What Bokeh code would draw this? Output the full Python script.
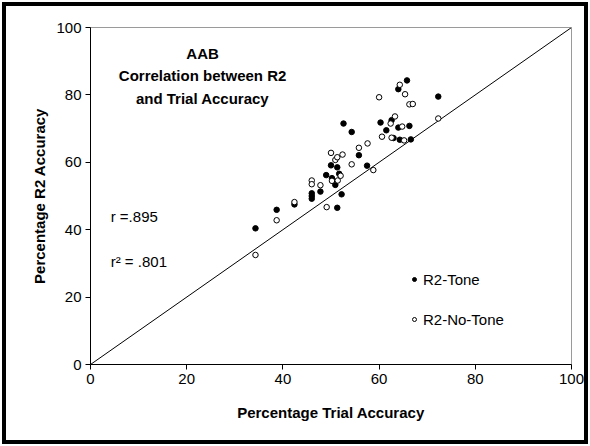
from bokeh.plotting import figure
from bokeh.models import Label, Legend, LegendItem, FixedTicker, Range1d
from bokeh.embed import file_html
from bokeh.resources import INLINE

# ---- data ----
tone_trial = [34.3, 38.7, 42.4, 46.0, 46.0, 46.0, 47.8, 51.3, 52.2, 49.0, 50.0,
              51.3, 55.8, 57.5, 50.2, 51.7, 50.9,
              65.8, 64.0, 72.3, 52.6, 54.3, 60.3, 62.6, 64.0, 66.3, 63.0, 64.3,
              66.6, 61.5]
tone_r2 = [40.4, 45.9, 47.5, 50.8, 50.0, 49.2, 51.3, 46.5, 50.5, 56.2, 59.1,
           58.5, 62.1, 59.0, 55.3, 56.6, 53.3,
           84.3, 81.7, 79.5, 71.5, 69.0, 71.8, 72.5, 70.3, 70.8, 67.2, 66.7,
           66.8, 69.5]

notone_trial = [34.3, 38.7, 42.4, 46.0, 46.0, 47.8, 49.1, 50.0, 50.9, 51.3, 52.4,
                54.3, 58.8, 50.2, 51.4, 52.0, 55.8,
                64.3, 65.4, 60.0, 66.3, 67.0, 72.3, 63.3, 62.4, 64.8, 57.6, 60.6,
                62.6, 65.2]
notone_r2 = [32.5, 42.8, 48.2, 54.6, 53.5, 53.2, 46.7, 62.8, 60.7, 61.5, 62.3,
             59.4, 57.7, 54.5, 54.6, 56.0, 64.3,
             83.0, 80.2, 79.3, 77.2, 77.3, 73.0, 73.6, 71.5, 70.6, 65.6, 67.6,
             67.3, 66.5]

identity = [0, 100]
ticks = [0, 20, 40, 60, 80, 100]

title_lines = ["AAB", "Correlation between R2", "and Trial Accuracy"]
r_text = "r =.895"
r2_text = "r\u00b2 = .801"
series_names = ["R2-Tone", "R2-No-Tone"]

FONT = "Liberation Sans"

# host box 586x442 at 2px margin, 4px black border drawn inside it
p = figure(width=586, height=442, output_backend="svg", toolbar_location=None,
           x_range=Range1d(0, 100), y_range=Range1d(0, 100),
           min_border_left=84, min_border_right=21, min_border_top=21,
           min_border_bottom=84)
p.styles = {"border": "4px solid black", "margin": "2px"}
p.grid.visible = False
p.background_fill_color = "white"
p.border_fill_color = "white"
p.outline_line_color = "#9a9a9a"
p.outline_line_width = 1

for ax in (p.xaxis[0], p.yaxis[0]):
    ax.ticker = FixedTicker(ticks=ticks)
    ax.minor_tick_line_color = None
    ax.major_tick_in = 0
    ax.major_tick_out = 5
    ax.axis_line_color = "black"
    ax.major_tick_line_color = "black"
    ax.major_label_text_font = FONT
    ax.major_label_text_font_size = "15px"
    ax.major_label_text_color = "black"
    ax.axis_label_text_font = FONT
    ax.axis_label_text_font_size = "15px"
    ax.axis_label_text_font_style = "bold"
    ax.axis_label_text_color = "black"

p.xaxis.axis_label = "Percentage Trial Accuracy"
p.yaxis.axis_label = "Percentage R2 Accuracy"
p.xaxis.major_label_standoff = 4
p.yaxis.major_label_standoff = 4
p.xaxis.axis_label_standoff = 17
p.yaxis.axis_label_standoff = 5

p.line(identity, identity, line_color="black", line_width=1)

r_tone = p.scatter(tone_trial, tone_r2, size=5.5, marker="circle",
                   fill_color="black", line_color="black", line_width=1)
r_no = p.scatter(notone_trial, notone_r2, size=5.5, marker="circle",
                 fill_color="white", line_color="black", line_width=1)

legend = Legend(items=[LegendItem(label=series_names[0], renderers=[r_tone]),
                       LegendItem(label=series_names[1], renderers=[r_no])],
                location=(319, 35), orientation="vertical",
                padding=0, margin=0, spacing=20, glyph_width=10,
                glyph_height=20, label_height=20, label_standoff=4,
                border_line_color=None, background_fill_alpha=0,
                label_text_font=FONT, label_text_font_size="15px",
                label_text_color="black")
p.add_layout(legend)

for txt, yy in zip(title_lines, [92.3, 85.8, 79.0]):
    p.add_layout(Label(x=23.3, y=yy, text=txt, text_align="center",
                       text_baseline="middle", text_font=FONT,
                       text_font_size="15px", text_font_style="bold",
                       text_color="black"))

p.add_layout(Label(x=4.2, y=44, text=r_text, text_align="left",
                   text_baseline="middle", text_font=FONT,
                   text_font_size="15px", text_color="black"))
p.add_layout(Label(x=4.2, y=30.5, text=r2_text, text_align="left",
                   text_baseline="middle", text_font=FONT,
                   text_font_size="15px", text_color="black"))

open("out.html", "w").write(file_html(p, INLINE))
